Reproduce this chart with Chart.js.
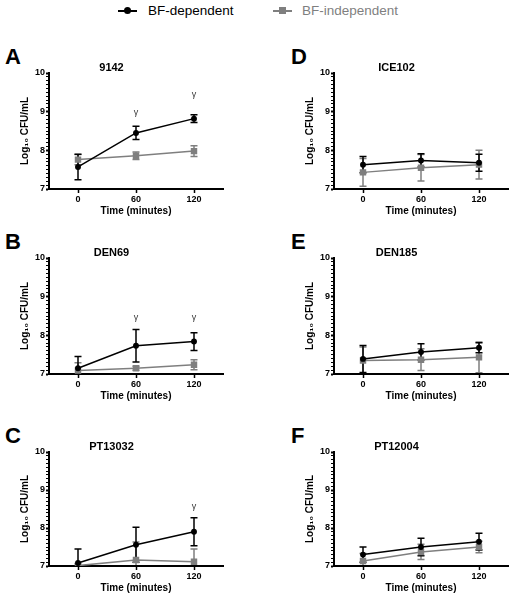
<!DOCTYPE html>
<html lang="en">
<head>
<meta charset="UTF-8" />
<title>BF-dependent vs BF-independent growth</title>
<script src="https://cdn.jsdelivr.net/npm/chart.js"></script>
<style>
  body { margin: 0; background: #fff; font-family: 'Liberation Sans', Arial, sans-serif; }
  #page { position: relative; width: 514px; height: 600px; overflow: hidden; }
  #page canvas { position: absolute; }
  .abs { position: absolute; }
  .lab { font-size: 13.5px; line-height: 16px; white-space: nowrap; }
  .letter { font-size: 22px; line-height: 22px; font-weight: bold; color: #000; }
</style>
</head>
<body>
<div id="page">
  <div class="abs" style="left:118px;top:10px;width:19px;height:2px;background:#000"></div>
  <div class="abs" style="left:124px;top:7px;width:7px;height:7px;border-radius:50%;background:#000"></div>
  <div class="abs lab" style="left:148px;top:3px;color:#000">BF-dependent</div>
  <div class="abs" style="left:273px;top:10px;width:19px;height:2px;background:#7f7f7f"></div>
  <div class="abs" style="left:279px;top:7px;width:7px;height:7px;background:#7f7f7f"></div>
  <div class="abs lab" style="left:302px;top:3px;color:#7f7f7f">BF-independent</div>
</div>

<script>
// time points (minutes)
const times = [0, 60, 120];
const letters = ['A', 'B', 'C', 'D', 'E', 'F'];
const strains = ['9142', 'DEN69', 'PT13032', 'ICE102', 'DEN185', 'PT12004'];

// log10 CFU/mL, mean and error, one row per panel
const depMean = [
  [7.57, 8.45, 8.82],
  [7.15, 7.73, 7.84],
  [7.08, 7.56, 7.90],
  [7.63, 7.74, 7.68],
  [7.39, 7.57, 7.68],
  [7.30, 7.50, 7.64]
];
const depErr = [
  [0.33, 0.17, 0.10],
  [0.30, 0.42, 0.23],
  [0.37, 0.46, 0.37],
  [0.21, 0.17, 0.22],
  [0.35, 0.21, 0.13],
  [0.20, 0.23, 0.22]
];
const indMean = [
  [7.76, 7.86, 7.98],
  [7.09, 7.15, 7.24],
  [7.01, 7.16, 7.11],
  [7.43, 7.55, 7.63],
  [7.35, 7.37, 7.43],
  [7.13, 7.37, 7.50]
];
const indErr = [
  [0.13, 0.10, 0.14],
  [0.20, 0.05, 0.13],
  [0.05, 0.47, 0.34],
  [0.36, 0.34, 0.37],
  [0.35, 0.28, 0.40],
  [0.20, 0.20, 0.15]
];
// where the significance mark (γ) sits, null = none
const gammaY = [
  [null, 8.98, 9.44],
  [null, 8.45, 8.45],
  [null, null, 8.57],
  [null, null, null],
  [null, null, null],
  [null, null, null]
];

const FONT = "'Liberation Sans', Arial, sans-serif";
const colLeft = [0, 285];
const rowTop = [38, 223, 417];
const rowHeight = [183, 183, 181];

const isWhole = v => Math.abs(v - Math.round(v)) < 1e-6;

const errorBars = {
  id: 'errorBars',
  beforeDatasetsDraw(chart) {
    const { ctx, chartArea } = chart;
    const x = chart.scales.x, y = chart.scales.y;
    ctx.save();
    ctx.beginPath();
    ctx.rect(chartArea.left, chartArea.top - 10, chartArea.width, chartArea.height + 9);
    ctx.clip();
    chart.data.datasets.slice().reverse().forEach(ds => {
      ctx.strokeStyle = ds.borderColor;
      ctx.lineWidth = 1.5;
      ds.data.forEach((p, j) => {
        const e = ds.errors[j];
        const px = x.getPixelForValue(p.x);
        const top = y.getPixelForValue(p.y + e);
        const bot = y.getPixelForValue(p.y - e);
        ctx.beginPath();
        ctx.moveTo(px, top); ctx.lineTo(px, bot);
        ctx.moveTo(px - 3.5, top); ctx.lineTo(px + 3.5, top);
        ctx.moveTo(px - 3.5, bot); ctx.lineTo(px + 3.5, bot);
        ctx.stroke();
      });
    });
    ctx.restore();
  }
};

const gammaMarks = {
  id: 'gammaMarks',
  afterDatasetsDraw(chart, args, opts) {
    const { ctx } = chart;
    const x = chart.scales.x, y = chart.scales.y;
    ctx.save();
    ctx.font = '9px ' + FONT;
    ctx.fillStyle = '#333';
    ctx.textAlign = 'center';
    ctx.textBaseline = 'middle';
    (opts.values || []).forEach((v, j) => {
      if (v == null) return;
      ctx.fillText('γ', x.getPixelForValue(times[j]), y.getPixelForValue(v));
    });
    ctx.restore();
  }
};

const page = document.getElementById('page');

strains.forEach((name, i) => {
  const col = Math.floor(i / 3), row = i % 3;

  const letter = document.createElement('div');
  letter.className = 'abs letter';
  letter.style.left = (col === 0 ? 5 : 291) + 'px';
  letter.style.top = (rowTop[row] + 8) + 'px';
  letter.textContent = letters[i];
  page.appendChild(letter);

  const cv = document.createElement('canvas');
  cv.width = 229;
  cv.height = rowHeight[row];
  cv.style.left = colLeft[col] + 'px';
  cv.style.top = rowTop[row] + 'px';
  page.appendChild(cv);

  new Chart(cv.getContext('2d'), {
    type: 'line',
    data: {
      datasets: [
        {
          label: 'BF-dependent',
          data: times.map((t, j) => ({ x: t, y: depMean[i][j] })),
          errors: depErr[i],
          borderColor: '#000',
          backgroundColor: '#000',
          borderWidth: 1.5,
          pointStyle: 'circle',
          pointRadius: 2.2
        },
        {
          label: 'BF-independent',
          data: times.map((t, j) => ({ x: t, y: indMean[i][j] })),
          errors: indErr[i],
          borderColor: '#7f7f7f',
          backgroundColor: '#7f7f7f',
          borderWidth: 1.5,
          pointStyle: 'rect',
          pointRadius: 3.5
        }
      ]
    },
    options: {
      responsive: false,
      animation: false,
      layout: { padding: { left: 0, right: 6, top: 0, bottom: 2 } },
      plugins: {
        legend: { display: false },
        tooltip: { enabled: false },
        title: {
          display: true,
          text: name,
          color: '#000',
          font: { family: FONT, size: 11, weight: 'bold', lineHeight: 1 },
          padding: { top: 24, bottom: 0 }
        },
        gammaMarks: { values: gammaY[i] }
      },
      scales: {
        x: {
          type: 'linear',
          min: -30,
          max: 150,
          afterBuildTicks: s => { s.ticks = times.map(v => ({ value: v })); },
          afterFit: s => { s.height = 30; },
          grid: { drawOnChartArea: false, tickLength: 4, tickWidth: 1.5, tickColor: '#000' },
          border: { color: '#000', width: 2 },
          ticks: { color: '#000', font: { family: FONT, size: 9, weight: 'bold' }, padding: 1, autoSkip: false, maxRotation: 0 },
          title: {
            display: true,
            text: 'Time (minutes)',
            color: '#000',
            font: { family: FONT, size: 10, weight: 'bold' },
            padding: { top: 0, bottom: 2 }
          }
        },
        y: {
          min: 7,
          max: 10,
          afterFit: s => { s.width = 49; },
          grid: {
            drawOnChartArea: false,
            tickLength: 3,
            tickColor: '#000',
            tickWidth: c => (c.tick && isWhole(c.tick.value) ? 2 : 1)
          },
          border: { color: '#000', width: 2 },
          ticks: {
            stepSize: 0.1,
            maxTicksLimit: 40,
            autoSkip: false,
            padding: 1,
            color: '#000',
            font: { family: FONT, size: 9, weight: 'bold' },
            callback: v => (isWhole(v) ? Math.round(v) : '')
          },
          title: {
            display: true,
            text: 'Log₁₀ CFU/mL',
            color: '#000',
            font: { family: FONT, size: 10, weight: 'bold' },
            padding: { top: 19, bottom: 0 }
          }
        }
      }
    },
    plugins: [errorBars, gammaMarks]
  });
});
</script>
</body>
</html>
